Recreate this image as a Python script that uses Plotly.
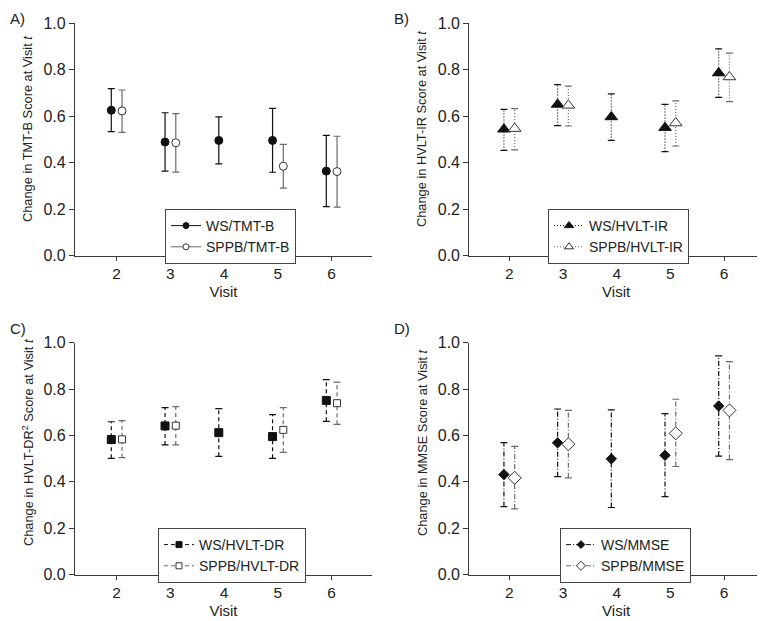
import plotly.graph_objects as go

# ---------------- data ----------------
visits = [2, 3, 4, 5, 6]

# Panel A: TMT-B
a_ws_est = [0.626, 0.489, 0.496, 0.496, 0.364]
a_ws_lo = [0.534, 0.364, 0.395, 0.359, 0.211]
a_ws_hi = [0.719, 0.615, 0.597, 0.634, 0.518]
a_sp_est = [0.623, 0.486, None, 0.385, 0.362]
a_sp_lo = [0.531, 0.360, None, 0.291, 0.209]
a_sp_hi = [0.713, 0.611, None, 0.479, 0.514]

# Panel B: HVLT-IR
b_ws_est = [0.544, 0.651, 0.597, 0.551, 0.786]
b_ws_lo = [0.453, 0.560, 0.496, 0.448, 0.681]
b_ws_hi = [0.630, 0.736, 0.696, 0.651, 0.890]
b_sp_est = [0.547, 0.647, None, 0.571, 0.769]
b_sp_lo = [0.455, 0.558, None, 0.472, 0.663]
b_sp_hi = [0.633, 0.730, None, 0.666, 0.872]

# Panel C: HVLT-DR
c_ws_est = [0.582, 0.641, 0.612, 0.595, 0.751]
c_ws_lo = [0.501, 0.559, 0.510, 0.501, 0.661]
c_ws_hi = [0.659, 0.720, 0.716, 0.690, 0.841]
c_sp_est = [0.583, 0.642, None, 0.624, 0.739]
c_sp_lo = [0.504, 0.559, None, 0.527, 0.648]
c_sp_hi = [0.664, 0.724, None, 0.720, 0.830]

# Panel D: MMSE
d_ws_est = [0.431, 0.568, 0.499, 0.514, 0.727]
d_ws_lo = [0.293, 0.422, 0.289, 0.336, 0.511]
d_ws_hi = [0.569, 0.714, 0.710, 0.694, 0.943]
d_sp_est = [0.417, 0.562, None, 0.609, 0.708]
d_sp_lo = [0.283, 0.417, None, 0.466, 0.496]
d_sp_hi = [0.553, 0.708, None, 0.756, 0.918]

ytitles = [
    "Change in TMT-B Score at Visit <i>t</i>",
    "Change in HVLT-IR Score at Visit <i>t</i>",
    "Change in HVLT-DR<sup>2</sup> Score at Visit <i>t</i>",
    "Change in MMSE Score at Visit <i>t</i>",
]
panel_labels = ["A)", "B)", "C)", "D)"]
ws_names = ["WS/TMT-B", "WS/HVLT-IR", "WS/HVLT-DR", "WS/MMSE"]
sp_names = ["SPPB/TMT-B", "SPPB/HVLT-IR", "SPPB/HVLT-DR", "SPPB/MMSE"]

# ---------------- styling ----------------
# the page body has an 8px margin, so the figure is placed at (8, 8)
OFF = 8
W, H = 765 - OFF, 621 - OFF
FONT = "Liberation Sans, Arial, Helvetica, sans-serif"
WS_COL = "#111111"
SP_COL = "#6a6a6a"
AXCOL = "#3a3a3a"
OFFSET = 0.1
CAP = 0.065

panels = [
    dict(ws=(a_ws_est, a_ws_lo, a_ws_hi), sp=(a_sp_est, a_sp_lo, a_sp_hi),
         dash="solid", ws_sym="circle", sp_sym="circle", ws_size=8, sp_size=8,
         xdom=(75, 372), ydom=(23.3, 255.7), xr=(1.225, 6.75), leg=(165, 209),
         lab=(0, -1), ttl=(28, 129)),
    dict(ws=(b_ws_est, b_ws_lo, b_ws_hi), sp=(b_sp_est, b_sp_lo, b_sp_hi),
         dash="1px,2px", ws_sym="triangle-up", sp_sym="triangle-up", ws_size=11, sp_size=11,
         xdom=(469.3, 763), ydom=(23.3, 255.7), xr=(1.255, 6.725), leg=(548, 209),
         lab=(392, -1), ttl=(422, 129)),
    dict(ws=(c_ws_est, c_ws_lo, c_ws_hi), sp=(c_sp_est, c_sp_lo, c_sp_hi),
         dash="4px,3px", ws_sym="square", sp_sym="square", ws_size=8, sp_size=7,
         xdom=(75, 372), ydom=(342.7, 574.5), xr=(1.225, 6.75), leg=(158, 528),
         lab=(0, 318), ttl=(28, 443)),
    dict(ws=(d_ws_est, d_ws_lo, d_ws_hi), sp=(d_sp_est, d_sp_lo, d_sp_hi),
         dash="5px,2px,1px,2px", ws_sym="diamond", sp_sym="diamond", ws_size=8, sp_size=10,
         xdom=(469.3, 763), ydom=(342.7, 574.5), xr=(1.255, 6.725), leg=(560, 528),
         lab=(392, 318), ttl=(422, 443)),
]


def px(x):
    return (x - OFF) / W


def py(y):
    return 1 - (y - OFF) / H


def err_segments(xs, lo, hi):
    vx, vy, cx, cy = [], [], [], []
    for x, l, h in zip(xs, lo, hi):
        if l is None or h is None:
            continue
        vx += [x, x, None]
        vy += [l, h, None]
        cx += [x - CAP, x + CAP, None, x - CAP, x + CAP, None]
        cy += [l, l, None, h, h, None]
    return vx, vy, cx, cy


fig = go.Figure()
layout = dict(
    template="none",
    width=W, height=H, autosize=False,
    margin=dict(l=0, r=0, t=0, b=0, pad=0),
    paper_bgcolor="white", plot_bgcolor="white",
    font=dict(family=FONT, size=14, color="#222222"),
    annotations=[],
)

for i, p in enumerate(panels):
    k = "" if i == 0 else str(i + 1)
    xa, ya = "x" + k, "y" + k
    legname = "legend" + k

    for series, col, sym, size, name, off, filled in [
        (p["ws"], WS_COL, p["ws_sym"], p["ws_size"], ws_names[i], -OFFSET, True),
        (p["sp"], SP_COL, p["sp_sym"], p["sp_size"], sp_names[i], OFFSET, False),
    ]:
        est, lo, hi = series
        xs = [v + off for v in visits]
        vx, vy, cx, cy = err_segments(xs, lo, hi)
        fig.add_trace(go.Scatter(x=vx, y=vy, mode="lines", xaxis=xa, yaxis=ya,
                                 line=dict(color=col, width=1.2, dash=p["dash"]),
                                 showlegend=False, hoverinfo="skip"))
        fig.add_trace(go.Scatter(x=cx, y=cy, mode="lines", xaxis=xa, yaxis=ya,
                                 line=dict(color=col, width=1.2),
                                 showlegend=False, hoverinfo="skip"))
        mk = dict(symbol=sym, size=size,
                  color=WS_COL if filled else "white",
                  line=dict(color=WS_COL if filled else "#333333", width=1))
        fig.add_trace(go.Scatter(x=xs, y=est, mode="markers", xaxis=xa, yaxis=ya,
                                 marker=mk, showlegend=False, name=name))
        # legend sample
        lmk = dict(mk)
        lmk["size"] = max(size - 3, 6)
        fig.add_trace(go.Scatter(x=[None], y=[None], mode="lines+markers", xaxis=xa, yaxis=ya,
                                 marker=lmk, line=dict(color=col, width=1, dash=p["dash"]),
                                 name=name, showlegend=True, legend=legname))

    x0, x1 = p["xdom"]
    y0, y1 = p["ydom"]
    layout["xaxis" + k] = dict(
        domain=[px(x0), px(x1)], range=list(p["xr"]), anchor=ya,
        automargin=False,
        tickvals=visits, ticks="outside", ticklen=4, tickcolor=AXCOL, tickwidth=1,
        showline=True, linecolor=AXCOL, linewidth=1.2,
        showgrid=False, zeroline=False,
        tickfont=dict(size=15.5),
        title=dict(text="Visit", font=dict(size=15), standoff=5),
    )
    layout["yaxis" + k] = dict(
        domain=[py(y1), py(y0)], range=[0, 1], anchor=xa,
        automargin=False,
        tickvals=[0, 0.2, 0.4, 0.6, 0.8, 1.0], tickformat=".1f",
        ticks="outside", ticklen=5, tickcolor=AXCOL, tickwidth=1,
        showline=True, linecolor=AXCOL, linewidth=1.2,
        showgrid=False, zeroline=False,
        tickfont=dict(size=16),
    )
    lx, ly = p["leg"]
    layout[legname] = dict(
        x=px(lx), y=py(ly), xanchor="left", yanchor="top",
        bordercolor="#444444", borderwidth=1, bgcolor="white",
        font=dict(size=14, color="#222222"), tracegroupgap=0,
        itemwidth=30,
    )
    ax_, ay_ = p["lab"]
    layout["annotations"].append(dict(
        text=panel_labels[i], xref="paper", yref="paper",
        x=max(px(ax_), 0), y=min(py(ay_), 1), xanchor="left", yanchor="top",
        showarrow=False, font=dict(size=15, color="#222222"),
    ))
    tx, ty = p["ttl"]
    layout["annotations"].append(dict(
        text=ytitles[i], xref="paper", yref="paper",
        x=px(tx), y=py(ty), xanchor="center", yanchor="middle", textangle=-90,
        showarrow=False, font=dict(size=12.8, color="#222222"),
    ))

fig.update_layout(**layout)
fig.write_html("out.html")
